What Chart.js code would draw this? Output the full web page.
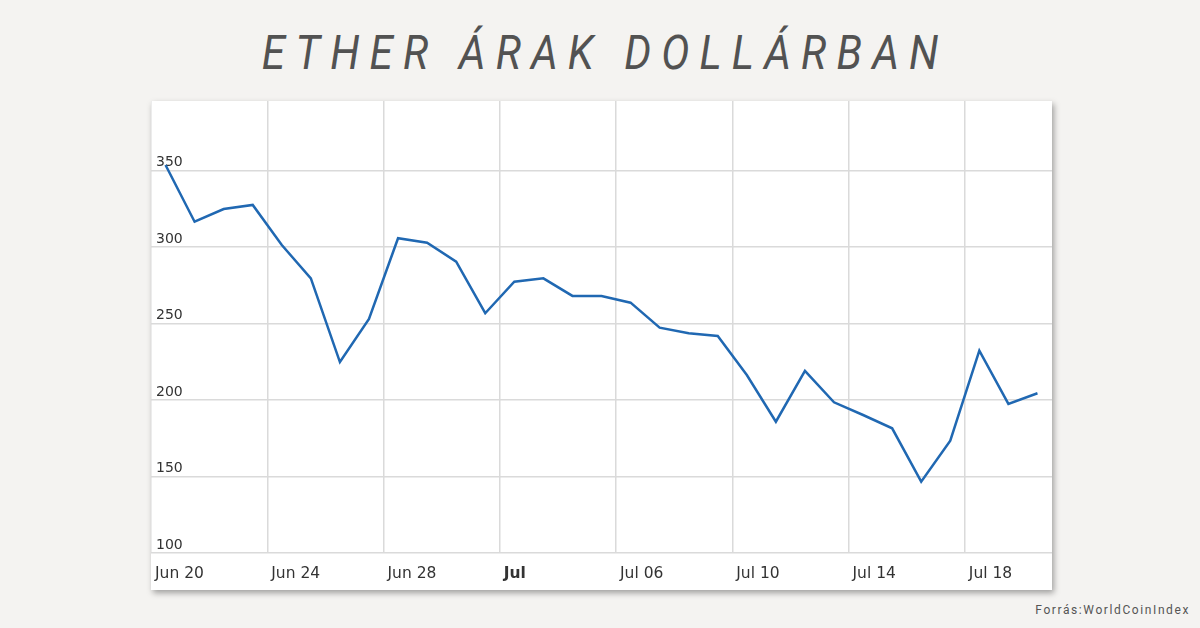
<!DOCTYPE html>
<html>
<head>
<meta charset="utf-8">
<script src="https://cdn.jsdelivr.net/npm/chart.js@4.4.0/dist/chart.umd.min.js"></script>
<style>
    body { margin: 0; width: 1200px; height: 628px; background: #f4f3f1; position: relative; overflow: hidden; font-family: Roboto, sans-serif; }
    #title { position: absolute; top: 24px; left: 0; width: 1200px; text-align: center; font-size: 48px; font-style: italic; letter-spacing: 11.5px; padding-left: 11.5px; box-sizing: border-box; transform: scaleX(0.88); transform-origin: 600px 0; color: #525252; }
    #panel { position: absolute; left: 151px; top: 101px; width: 901px; height: 489px; background: #fff; box-shadow: 2px 3px 6px rgba(0,0,0,.35); }
    #source { position: absolute; right: 10px; top: 603px; font-size: 12px; letter-spacing: 1.6px; color: #555; }
</style>
</head>
<body>
<div id="title">ETHER ÁRAK DOLLÁRBAN</div>
<div id="panel"><canvas id="priceChart" width="901" height="489"></canvas></div>
<div id="source">Forrás:WorldCoinIndex</div>

<script>
//..one point per day, Jun 20 .. Jul 20
const dayLabels = ['Jun 20', 'Jun 21', 'Jun 22', 'Jun 23', 'Jun 24', 'Jun 25', 'Jun 26', 'Jun 27', 'Jun 28', 'Jun 29', 'Jun 30',
    'Jul 01', 'Jul 02', 'Jul 03', 'Jul 04', 'Jul 05', 'Jul 06', 'Jul 07', 'Jul 08', 'Jul 09', 'Jul 10',
    'Jul 11', 'Jul 12', 'Jul 13', 'Jul 14', 'Jul 15', 'Jul 16', 'Jul 17', 'Jul 18', 'Jul 19', 'Jul 20'];
const etherPrices = [353.6, 316.5, 324.8, 327.5, 301.3, 279.5, 224.8, 252.9, 305.7, 302.8, 290.4,
    256.7, 277.3, 279.5, 268.0, 268.0, 263.6, 247.3, 243.6, 241.8, 216.3,
    185.8, 219.0, 198.5, 190.2, 181.5, 146.6, 173.4, 232.2, 197.4, 204.4];

//..axis ticks
const xTickDays = [0, 4, 8, 12, 16, 20, 24, 28];
const xTickLabels = ['Jun 20', 'Jun 24', 'Jun 28', 'Jul', 'Jul 06', 'Jul 10', 'Jul 14', 'Jul 18'];
const yTicks = [100, 150, 200, 250, 300, 350];

const gridColor = '#dadada';

new Chart(document.getElementById('priceChart'), {
    type: 'line',
    data: {
        labels: dayLabels,
        datasets: [{
            data: etherPrices.map((v, i) => ({ x: i + 0.5, y: v })),
            borderColor: '#2068b2',
            borderWidth: 2.5,
            pointRadius: 0,
            tension: 0,
            fill: false
        }]
    },
    options: {
        responsive: false,
        animation: false,
        layout: { padding: 0 },
        plugins: { legend: { display: false }, tooltip: { enabled: false } },
        scales: {
            x: {
                type: 'linear',
                min: 0,
                max: 31,
                afterBuildTicks: s => { s.ticks = xTickDays.map(v => ({ value: v })); },
                afterFit: s => { s.height = 37; s.paddingLeft = 0; s.paddingRight = 0; },
                grid: { color: gridColor, lineWidth: 1.5, drawTicks: false },
                border: { display: false },
                ticks: {
                    align: 'start',
                    labelOffset: 4,
                    padding: 12,
                    autoSkip: false,
                    maxRotation: 0,
                    color: '#333',
                    font: ctx => ({ family: 'DejaVu Sans', size: 15.5, weight: ctx.tick && ctx.tick.value === 12 ? 'bold' : 'normal' }),
                    callback: (v, i) => xTickLabels[i]
                }
            },
            y: {
                min: 100,
                max: 395.4,
                afterBuildTicks: s => { s.ticks = yTicks.map(v => ({ value: v })); },
                afterFit: s => { s.width = 0; s.paddingTop = 0; s.paddingBottom = 0; },
                grid: { color: gridColor, lineWidth: 1.5, drawTicks: false },
                border: { display: false },
                ticks: {
                    mirror: true,
                    padding: 5,
                    labelOffset: -8,
                    color: '#333',
                    font: { family: 'DejaVu Sans', size: 14 }
                }
            }
        }
    }
});
</script>
</body>
</html>
